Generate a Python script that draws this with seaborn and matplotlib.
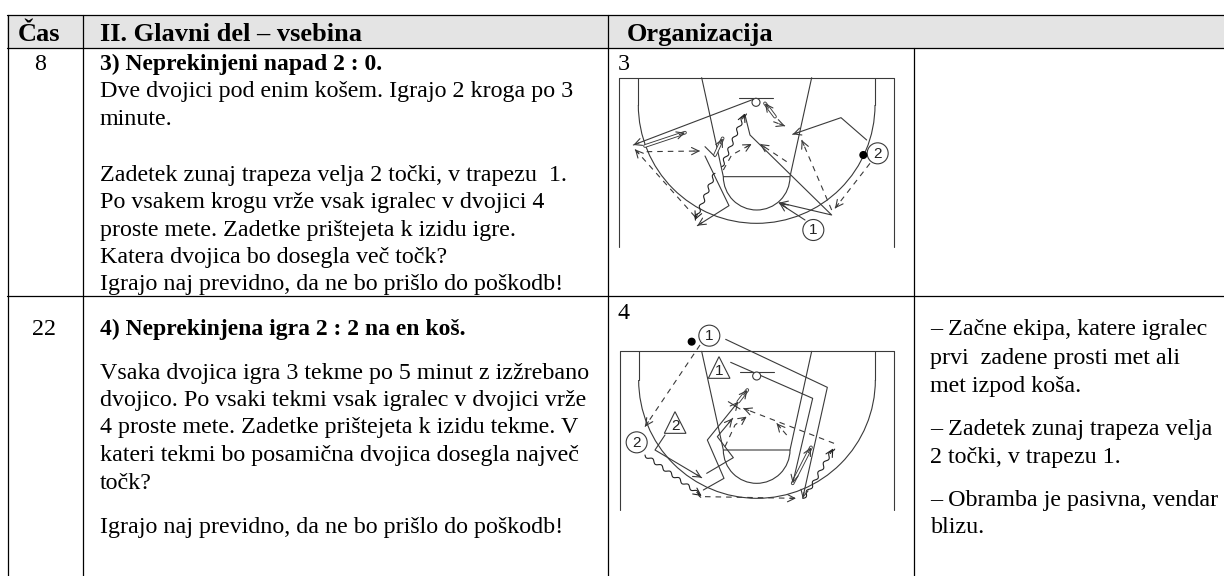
import matplotlib
matplotlib.use('Agg')
import matplotlib.pyplot as plt
from matplotlib.patches import Arc, Circle, Polygon, Rectangle
import seaborn as sns

sns.set_theme(style='white')
plt.rcParams['font.family'] = ['Liberation Serif', 'DejaVu Serif']

# table text: (x, baseline y, text)
header_labels = [(18, 40.7, 'Čas'), (100, 40.7, 'II. Glavni del – vsebina'), (627, 40.7, 'Organizacija')]
time_labels = [(40, 69.7, '8'), (44, 335, '22')]
bold_lines = [(99.5, 69.7, '3) Neprekinjeni napad 2 : 0.'), (99.5, 335, '4) Neprekinjena igra 2 : 2 na en koš.')]
body_lines = [
    (99.5, 97, 'Dve dvojici pod enim košem. Igrajo 2 kroga po 3'),
    (99.5, 125.3, 'minute.'),
    (99.5, 180.7, 'Zadetek zunaj trapeza velja 2 točki, v trapezu  1.'),
    (99.5, 208, 'Po vsakem krogu vrže vsak igralec v dvojici 4'),
    (99.5, 236.3, 'proste mete. Zadetke prištejeta k izidu igre.'),
    (99.5, 263, 'Katera dvojica bo dosegla več točk?'),
    (99.5, 290.3, 'Igrajo naj previdno, da ne bo prišlo do poškodb!'),
    (99.5, 378.7, 'Vsaka dvojica igra 3 tekme po 5 minut z izžrebano'),
    (99.5, 406, 'dvojico. Po vsaki tekmi vsak igralec v dvojici vrže'),
    (99.5, 433.3, '4 proste mete. Zadetke prištejeta k izidu tekme. V'),
    (99.5, 461, 'kateri tekmi bo posamična dvojica dosegla največ'),
    (99.5, 488.7, 'točk?'),
    (99.5, 532.7, 'Igrajo naj previdno, da ne bo prišlo do poškodb!'),
]
note_lines = [
    (930.5, 335.3, '– Začne ekipa, katere igralec'),
    (930.5, 364.3, 'prvi  zadene prosti met ali'),
    (930.5, 391.7, 'met izpod koša.'),
    (930.5, 435.3, '– Zadetek zunaj trapeza velja'),
    (930.5, 462.7, '2 točki, v trapezu 1.'),
    (930.5, 506, '– Obramba je pasivna, vendar'),
    (930.5, 533.3, 'blizu.'),
]
figure_numbers = [(617.5, 70, '3'), (617.5, 319, '4')]

# table rules
rule_h = [(7, 1224, 15), (7, 1224, 47.5), (7, 1224, 296)]
rule_v = [(7.5, 15, 576), (82.5, 15, 576), (608, 15, 576), (913.5, 47.5, 576)]

# diagram 3, in 3x crop coordinates, origin (610, 40)
d3_origin = (610, 40)
d3_frame = [(28, 622), (28, 113), (851, 113), (851, 622)]
d3_arc = (440, 195, 355)
d3_lane = [[(275, 113), (340, 410), (540, 410), (605, 113)]]
d3_key = (440, 410, 100)
d3_board = [(388, 173), (490, 173)]
d3_hoop = (438, 187, 12)
d3_solid = [
    [(438, 175), (70, 315)],
    [(285, 348), (357, 497), (262, 557)],
    [(405, 225), (420, 285), (665, 525), (508, 488)],
    [(585, 540), (508, 490)],
    [(770, 300), (693, 233), (548, 283)],
]
d3_plain = [[(285, 320), (315, 350)]]
d3_double = [
    [(105, 318), (225, 278)],
    [(315, 345), (338, 295)],
    [(495, 230), (465, 190)],
]
d3_dashed = [
    [(110, 335), (270, 333)],
    [(255, 530), (75, 328)],
    [(530, 365), (450, 312)],
    [(340, 390), (365, 345), (425, 312)],
    [(665, 510), (575, 300)],
    [(780, 370), (675, 505)],
    [(490, 245), (525, 258)],
]
d3_wavy = [
    [(315, 400), (255, 540)],
    [(335, 380), (405, 220)],
]
d3_players = [(610, 570, '1'), (803, 340, '2')]
d3_ball = (760, 345, 10)
d3_triangles = []

# diagram 4, origin (610, 310)
d4_origin = (610, 310)
d4_frame = [(30, 600), (30, 124), (851, 124), (851, 600)]
d4_arc = (441, 210, 355)
d4_lane = [[(275, 124), (340, 420), (540, 420), (605, 124)]]
d4_key = (440, 420, 100)
d4_board = [(390, 185), (492, 185)]
d4_hoop = (440, 198, 12)
d4_solid = [
    [(347, 88), (652, 232), (578, 565)],
    [(362, 157), (608, 265), (548, 520)],
    [(165, 375), (135, 420), (275, 503)],
    [(290, 490), (370, 443), (322, 380), (368, 325)],
    [(280, 540), (342, 505), (292, 390), (385, 275)],
]
d4_plain = [[(355, 275), (390, 297)]]
d4_double = [
    [(548, 520), (603, 412)],
    [(385, 275), (412, 240)],
]
d4_dashed = [
    [(270, 105), (105, 350)],
    [(285, 560), (558, 565)],
    [(672, 400), (400, 295)],
    [(530, 375), (500, 340)],
    [(345, 410), (375, 345), (410, 320)],
]
d4_wavy = [
    [(105, 435), (275, 558)],
    [(580, 565), (610, 520), (670, 415)],
]
d4_players = [(298, 77, '1'), (80, 397, '2')]
d4_ball = (245, 95, 10)
d4_triangles = [(327, 140, '1'), (195, 305, '2')]

line_color = '#3a3a3a'

fig = plt.figure(figsize=(12.24, 5.76), dpi=100)
ax = fig.add_axes([0, 0, 1, 1])
ax.set_xlim(0, 1224)
ax.set_ylim(576, 0)
ax.axis('off')


def to_px(points, origin):
    return [origin[0] + p[0] / 3 for p in points], [origin[1] + p[1] / 3 for p in points]


def draw_path(points, origin, dashed=False, arrow=True, wavy=False, double=False, color=line_color):
    xs, ys = to_px(points, origin)
    lw = 2.6 if double else 0.8
    sns.lineplot(x=xs, y=ys, sort=False, estimator=None, color=color, lw=lw, ax=ax)
    line = ax.lines[-1]
    if dashed:
        line.set_linestyle((0, (5, 4.5)))
    if wavy:
        line.set_sketch_params(scale=1.6, length=11, randomness=1)
    if double:
        sns.lineplot(x=xs, y=ys, sort=False, estimator=None, color='white', lw=1.3, ax=ax)
    if arrow:
        # only the head: a short stub so the annotation does not paint over dashes
        dx, dy = xs[-1] - xs[-2], ys[-1] - ys[-2]
        size = (dx ** 2 + dy ** 2) ** 0.5
        stub = (xs[-1] - dx / size * 6, ys[-1] - dy / size * 6)
        ax.annotate('', xy=(xs[-1], ys[-1]), xytext=stub,
                    arrowprops=dict(arrowstyle='->,head_length=0.4,head_width=0.2', color=color,
                                    lw=0.8, shrinkA=0, shrinkB=0, mutation_scale=13))


def draw_court(origin, frame, arc, lane, key, board, hoop, solid, plain, double, dashed, wavy, players, ball, triangles):
    ox, oy = origin
    draw_path(frame, origin, arrow=False)
    for p in lane:
        draw_path(p, origin, arrow=False)
    draw_path(board, origin, arrow=False)
    cx, cy, r = arc
    draw_path([(cx - r, frame[1][1]), (cx - r, cy)], origin, arrow=False)
    draw_path([(cx + r, frame[1][1]), (cx + r, cy)], origin, arrow=False)
    ax.add_patch(Arc((ox + cx / 3, oy + cy / 3), 2 * r / 3, 2 * r / 3, theta1=0, theta2=180, color=line_color, lw=0.8))
    ax.add_patch(Arc((ox + key[0] / 3, oy + key[1] / 3), 2 * key[2] / 3, 2 * key[2] / 3, theta1=0, theta2=180,
                     color=line_color, lw=0.8))
    ax.add_patch(Circle((ox + hoop[0] / 3, oy + hoop[1] / 3), hoop[2] / 3, fc='white', ec=line_color, lw=0.8, zorder=3))
    for p in solid:
        draw_path(p, origin)
    for p in plain:
        draw_path(p, origin, arrow=False)
    for p in double:
        draw_path(p, origin, double=True)
    for p in dashed:
        draw_path(p, origin, dashed=True)
    for p in wavy:
        draw_path(p, origin, wavy=True, color='#222222')
    for x, y, label in players:
        ax.add_patch(Circle((ox + x / 3, oy + y / 3), 10.5, fc='white', ec=line_color, lw=0.8, zorder=3))
        ax.text(ox + x / 3, oy + y / 3 + 0.5, label, fontsize=11, family='Liberation Sans', ha='center', va='center',
                color='#222222', zorder=4)
    ax.add_patch(Circle((ox + ball[0] / 3, oy + ball[1] / 3), ball[2] / 3, fc='black', ec='black', zorder=3))
    for x, y, label in triangles:
        ax.add_patch(Polygon([(ox + x / 3, oy + y / 3), (ox + (x - 32) / 3, oy + (y + 65) / 3),
                              (ox + (x + 33) / 3, oy + (y + 65) / 3)], fc='white', ec=line_color, lw=0.8, zorder=3))
        ax.text(ox + x / 3, oy + (y + 42) / 3, label, fontsize=11, family='Liberation Sans', ha='center', va='center',
                color='#222222', zorder=4)


# header band and rules
ax.add_patch(Rectangle((7, 15), 1217, 32.5, fc='#e4e4e4', ec='none', zorder=0))
for x0, x1, y in rule_h:
    sns.lineplot(x=[x0, x1], y=[y, y], color='black', lw=0.9, ax=ax)
for x, y0, y1 in rule_v:
    sns.lineplot(x=[x, x], y=[y0, y1], sort=False, estimator=None, color='black', lw=0.9, ax=ax)

draw_court(d3_origin, d3_frame, d3_arc, d3_lane, d3_key, d3_board, d3_hoop, d3_solid, d3_plain, d3_double,
           d3_dashed, d3_wavy, d3_players, d3_ball, d3_triangles)
draw_court(d4_origin, d4_frame, d4_arc, d4_lane, d4_key, d4_board, d4_hoop, d4_solid, d4_plain, d4_double,
           d4_dashed, d4_wavy, d4_players, d4_ball, d4_triangles)

for x, y, s in header_labels:
    ax.text(x, y, s, fontsize=19, fontweight='bold', va='baseline', color='black')
for x, y, s in time_labels:
    ax.text(x, y, s, fontsize=17.25, ha='center', va='baseline', color='black')
for x, y, s in bold_lines:
    ax.text(x, y, s, fontsize=17, fontweight='bold', va='baseline', color='black')
for x, y, s in body_lines + note_lines + figure_numbers:
    ax.text(x, y, s, fontsize=17.25, va='baseline', color='black')

fig.savefig('out.png', dpi=100)
